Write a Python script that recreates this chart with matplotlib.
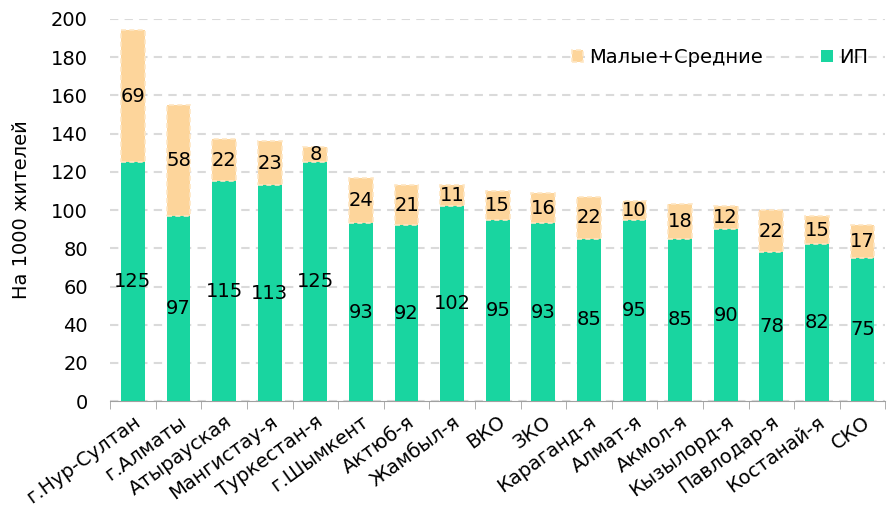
import numpy as np
import matplotlib
matplotlib.use('Agg')
from matplotlib import pyplot as plt

regions = ['г.Нур-Султан', 'г.Алматы', 'Атырауская', 'Мангистау-я', 'Туркестан-я',
           'г.Шымкент', 'Актюб-я', 'Жамбыл-я', 'ВКО', 'ЗКО', 'Караганд-я', 'Алмат-я',
           'Акмол-я', 'Кызылорд-я', 'Павлодар-я', 'Костанай-я', 'СКО']
ip = [125, 97, 115, 113, 125, 93, 92, 102, 95, 93, 85, 95, 85, 90, 78, 82, 75]
sme = [69, 58, 22, 23, 8, 24, 21, 11, 15, 16, 22, 10, 18, 12, 22, 15, 17]

green = '#19D5A0'
peach = '#FDD59B'
fs = 14

fig = plt.figure(figsize=(8.88, 5.13), dpi=100)
ax = fig.add_axes([0.124, 0.218, 0.873, 0.745])

x = np.arange(len(regions))
b1 = ax.bar(x, ip, width=0.52, color=green, label='ИП', zorder=3)
b2 = ax.bar(x, sme, width=0.52, bottom=ip, color=peach, label='Малые+Средние', zorder=3,
            edgecolor='#FEE6C4', linestyle=(0, (3, 2)), linewidth=1.2)

for i in range(len(x)):
    ax.text(x[i], ip[i] / 2, str(ip[i]), ha='center', va='center', fontsize=fs, zorder=4)
    ax.text(x[i], ip[i] + sme[i] / 2, str(sme[i]), ha='center', va='center', fontsize=fs, zorder=4)

ax.set_xlim(-0.5, len(regions) - 0.5)
ax.set_ylim(0, 200)
ax.set_yticks(range(0, 201, 20))
ax.set_xticks(x)
ax.set_xticklabels(regions, rotation=36, ha='right', rotation_mode='anchor')
ax.set_xticks(np.arange(-0.5, len(regions), 1), minor=True)
ax.tick_params(axis='x', which='major', length=0, labelsize=fs, pad=8)
ax.tick_params(axis='x', which='minor', length=6, color='#a0a0a0')
ax.tick_params(axis='y', length=0, labelsize=fs, pad=16)
ax.set_ylabel('На 1000 жителей', fontsize=fs, labelpad=14)

ax.grid(axis='y', linestyle=(0, (4, 3)), color='#dadada', linewidth=1.5, zorder=0)
for s in ['top', 'right', 'left']:
    ax.spines[s].set_visible(False)
ax.spines['bottom'].set_color('#a0a0a0')

ax.legend(handles=[b2, b1], loc='upper right', ncol=2, frameon=False, fontsize=fs,
          handlelength=0.6, handleheight=0.6, handletextpad=0.3, columnspacing=3.0,
          bbox_to_anchor=(1.0, 0.97))

fig.savefig('out.png', dpi=100)
